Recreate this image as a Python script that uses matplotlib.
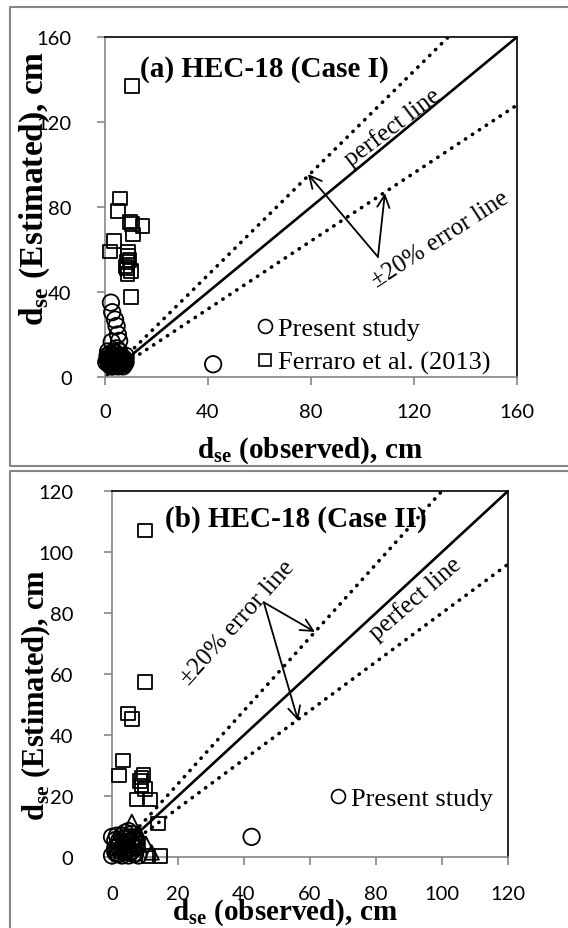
import matplotlib
matplotlib.use("Agg")
import matplotlib.pyplot as plt
from matplotlib.lines import Line2D
import numpy as np

plt.rcParams['mathtext.fontset'] = 'custom'
plt.rcParams['mathtext.rm'] = 'Liberation Serif'
plt.rcParams['mathtext.bf'] = 'Liberation Serif:bold'

SERIF = 'Liberation Serif'
TICKFONT = 'Lato'
GREY = '#868686'

# ---- (a) HEC-18, Case I ----
present_obs_a = [2.3, 2.8, 3.9, 4.5, 5.0, 5.5, 2.6, 1.2, 42.0,
                 1.0, 1.5, 2.0, 2.5, 3.0, 3.0, 3.5, 4.0, 4.0, 4.5, 5.0, 5.0,
                 5.5, 6.0, 6.0, 6.5, 7.0, 7.0, 7.5, 3.5, 4.5, 2.0, 5.5, 2.5,
                 6.0, 3.0, 4.0, 5.0, 6.5, 2.0, 7.5, 0.5, 1.0, 2.0, 3.0, 4.0,
                 5.0, 6.0, 7.0, 8.0, 8.0, 1.5, 2.5, 3.5, 4.5, 5.5, 6.5, 7.5]
present_est_a = [35.0, 30.5, 27.0, 24.0, 20.0, 17.0, 16.5, 12.0, 6.0,
                 8.0, 6.0, 9.0, 7.0, 5.0, 10.0, 8.0, 6.0, 11.0, 9.0, 7.0, 5.0,
                 10.0, 8.0, 6.0, 9.0, 7.0, 5.0, 8.0, 12.0, 13.5, 11.0, 12.0, 5.0,
                 10.0, 7.5, 8.5, 9.5, 6.5, 7.0, 6.0, 7.0, 10.0, 6.0, 8.0, 9.0,
                 8.0, 7.0, 9.0, 7.0, 10.0, 9.0, 9.0, 6.0, 7.0, 6.0, 7.0, 6.0]
ferraro_obs_a = [10.5, 5.8, 5.0, 9.7, 10.4, 14.6, 10.9, 3.5, 1.9, 9.0,
                 9.0, 8.5, 8.5, 8.8, 10.0, 9.5, 8.0, 10.0]
ferraro_est_a = [137.0, 84.0, 78.0, 73.0, 72.0, 71.0, 67.0, 64.0, 59.0, 59.0,
                 57.0, 54.0, 51.0, 48.5, 37.6, 55.0, 52.0, 50.0]

# ---- (b) HEC-18, Case II ----
present_obs_b = [0.0, 0.0, 42.3, 1.0, 1.5, 2.0, 2.5, 3.0, 3.0, 3.5, 4.0, 4.5,
                 5.0, 5.0, 5.5, 6.0, 6.0, 6.5, 7.0, 7.0, 7.5, 8.0, 4.0, 2.0,
                 5.0, 1.0, 3.5, 6.5, 4.5, 2.5, 1.5, 3.0, 4.5, 6.0, 7.5, 2.0,
                 3.5, 5.5, 7.0, 4.0, 6.5, 1.0]
present_est_b = [6.6, 0.5, 6.6, 3.0, 1.0, 5.0, 2.0, 7.0, 0.5, 4.0, 1.5, 6.0,
                 3.0, 0.5, 5.0, 2.0, 7.5, 4.0, 1.0, 6.0, 3.0, 0.5, 8.0, 3.5,
                 8.5, 5.5, 2.5, 6.0, 2.0, 4.5, 7.0, 3.0, 4.0, 5.0, 4.5, 1.0,
                 6.0, 1.5, 3.5, 5.0, 1.0, 1.5]
ferraro_obs_b = [10.0, 10.0, 4.9, 6.0, 3.4, 2.2, 9.5, 8.5, 10.0, 9.0, 7.5,
                 11.5, 14.0, 14.5, 11.0, 9.0]
ferraro_est_b = [107.0, 57.4, 47.0, 45.2, 31.6, 26.7, 27.0, 25.0, 22.3, 23.4,
                 18.8, 18.8, 11.0, 0.3, 0.3, 26.0]
other_obs_b = [6.0, 10.3, 8.0, 12.0]
other_est_b = [11.5, 4.3, 8.0, 1.5]

fig = plt.figure(figsize=(5.68, 9.29), dpi=100)
W, H = 568.0, 929.0


def px_axes(l, t, r, b):
    return fig.add_axes([l / W, 1 - b / H, (r - l) / W, (b - t) / H])


def style_axes(ax, lim, step):
    ax.set_xlim(0, lim)
    ax.set_ylim(0, lim)
    ticks = np.arange(0, lim + 1, step)
    ax.set_xticks(ticks)
    ax.set_yticks(ticks)
    for side in ('top', 'right'):
        ax.spines[side].set_color('black')
        ax.spines[side].set_linewidth(1.2)
    for side in ('left', 'bottom'):
        ax.spines[side].set_color(GREY)
        ax.spines[side].set_linewidth(1.2)
    ax.tick_params(direction='out', length=6, width=1.2, color=GREY,
                   labelsize=14.5)
    for lab in ax.get_xticklabels() + ax.get_yticklabels():
        lab.set_fontfamily(TICKFONT)


def ref_lines(ax, lim):
    x = np.array([0, lim])
    ax.plot(x, x, color='black', lw=1.9, zorder=2)
    for k in (1.2, 0.8):
        ax.plot(x, k * x, color='black', lw=2.6, ls=(0, (0.1, 2.2)),
                dash_capstyle='round', zorder=2)


def scatter_sets(ax, sets):
    for xs, ys, m, s in sets:
        ax.scatter(xs, ys, marker=m, s=s, facecolors='none',
                   edgecolors='black', linewidths=1.3, zorder=3,
                   clip_on=False)


txt = dict(family=SERIF, color='black')
arrow = dict(arrowstyle='->', lw=1.3, color='black', mutation_scale=22,
             shrinkA=0, shrinkB=0)
h_circ = Line2D([], [], ls='none', marker='o', ms=10, mfc='none',
                mec='black', mew=1.2)
h_sq = Line2D([], [], ls='none', marker='s', ms=9, mfc='none',
              mec='black', mew=1.2)
xlab = r'$\mathbf{d}_{\mathbf{se}}$ (observed), cm'
ylab = r'$\mathbf{d}_{\mathbf{se}}$ (Estimated), cm'

# top panel
ax1 = px_axes(105, 38, 517, 378)
style_axes(ax1, 160, 40)
ax1.tick_params(axis='x', pad=13)
ax1.tick_params(axis='y', pad=18)
ref_lines(ax1, 160)
scatter_sets(ax1, [(ferraro_obs_a, ferraro_est_a, 's', 95),
                   (present_obs_a, present_est_a, 'o', 140)])
ax1.text(13.6, 145, '(a) HEC-18 (Case I)', fontsize=21, fontweight='bold',
         ha='left', va='center', **txt)
ax1.text(111.5, 118, 'perfect line', fontsize=18, rotation=37,
         ha='center', va='center', **txt)
ax1.text(130, 65, '±20% error line', fontsize=18, rotation=33,
         ha='center', va='center', **txt)
ax1.annotate('', xy=(78.8, 95.5), xytext=(106, 56.5), arrowprops=arrow)
ax1.annotate('', xy=(108.7, 86.5), xytext=(106, 56.5), arrowprops=arrow)
ax1.legend([h_circ, h_sq], ['Present study', 'Ferraro et al. (2013)'],
           loc='lower left', bbox_to_anchor=(0.36, 0.0), frameon=False,
           borderaxespad=0, borderpad=0.1, handlelength=0.7,
           handletextpad=0.15, labelspacing=0.4,
           prop=dict(family=SERIF, size=19))
fig.text(310 / W, 1 - 451 / H, xlab, fontsize=21, fontweight='bold',
         ha='center', va='center', **txt)
fig.text(35 / W, 1 - 188 / H, ylab, fontsize=24, fontweight='bold',
         ha='center', va='center', rotation=90, **txt)

# bottom panel
ax2 = px_axes(112, 492, 508, 858)
style_axes(ax2, 120, 20)
ax2.tick_params(axis='x', pad=14)
ax2.tick_params(axis='y', pad=22)
ref_lines(ax2, 120)
scatter_sets(ax2, [(ferraro_obs_b, ferraro_est_b, 's', 95),
                   (other_obs_b, other_est_b, '^', 110),
                   (present_obs_b, present_est_b, 'o', 140)])
ax2.text(16, 111, '(b) HEC-18 (Case II)', fontsize=21, fontweight='bold',
         ha='left', va='center', **txt)
ax2.text(92, 85, 'perfect line', fontsize=18, rotation=41,
         ha='center', va='center', **txt)
ax2.text(38.2, 77, '±20% error line', fontsize=18, rotation=48,
         ha='center', va='center', **txt)
ax2.annotate('', xy=(61.5, 73.8), xytext=(46, 83.5), arrowprops=arrow)
ax2.annotate('', xy=(56.4, 44.7), xytext=(46, 83.5), arrowprops=arrow)
ax2.legend([h_circ], ['Present study'], loc='lower left',
           bbox_to_anchor=(0.54, 0.12), frameon=False, borderaxespad=0,
           borderpad=0.1, handlelength=0.7, handletextpad=0.15,
           prop=dict(family=SERIF, size=19))
fig.text(285 / W, 1 - 913 / H, xlab, fontsize=21, fontweight='bold',
         ha='center', va='center', **txt)
fig.text(36 / W, 1 - 695 / H, ylab, fontsize=22, fontweight='bold',
         ha='center', va='center', rotation=90, **txt)

# grey frames around each chart
for (t, b) in ((8, 467), (472, 935)):
    xs = [1.01, 10 / W, 10 / W, 1.01]
    ys = [1 - t / H, 1 - t / H, 1 - b / H, 1 - b / H]
    fig.add_artist(Line2D(xs, ys, transform=fig.transFigure,
                          color=GREY, lw=1.5))

fig.savefig('out.png', dpi=100)
